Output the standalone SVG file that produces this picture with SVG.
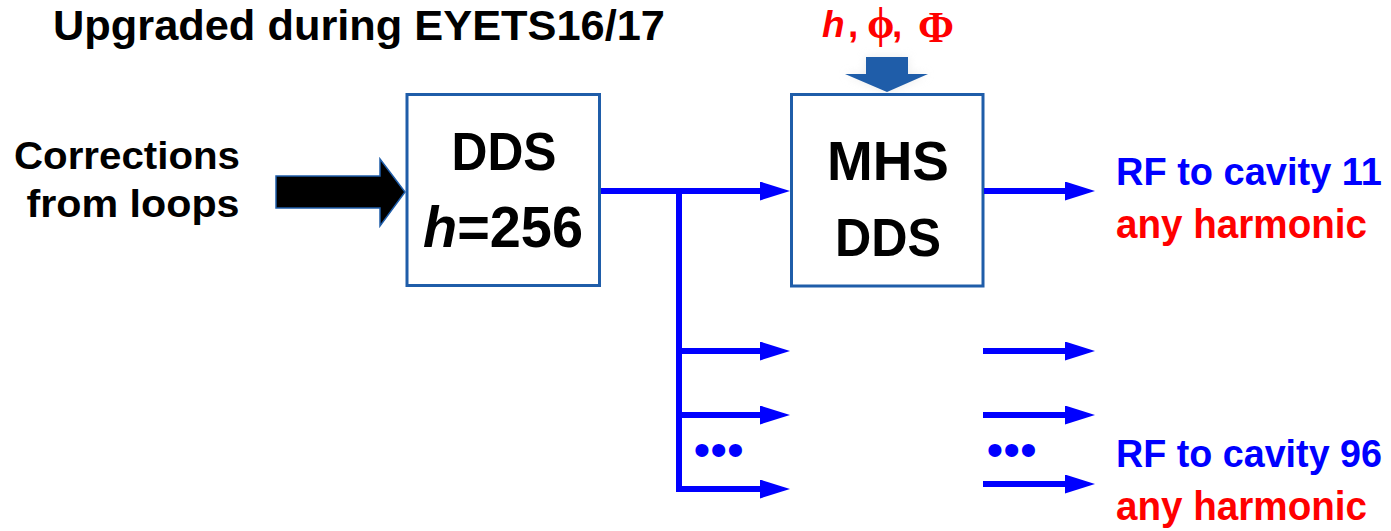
<svg xmlns="http://www.w3.org/2000/svg" width="1391" height="531" viewBox="0 0 1391 531">
<style>
.lbl{font-family:"Liberation Sans",Arial,sans-serif;font-weight:bold;fill:#000}
.box{fill:#fff;stroke:#1F5DA9;stroke-width:3}
.wire{stroke:#0000FF;stroke-width:6;fill:none}
.blue{fill:#0000FF}
.red{fill:#FF0000}
.dots{fill:#0000FF;font-family:"Liberation Sans",Arial,sans-serif;font-size:48px}
</style>
<defs>
<marker id="ah" markerUnits="userSpaceOnUse" markerWidth="30" markerHeight="19" refX="1" refY="9.5" orient="auto">
<path d="M0,0 L30,9.5 L0,19 z" fill="#0000FF"/>
</marker>
<filter id="glow" x="-50%" y="-50%" width="200%" height="200%">
<feGaussianBlur stdDeviation="5"/>
</filter>
</defs>

<text id="title" class="lbl" x="53" y="40" font-size="42" textLength="612" lengthAdjust="spacingAndGlyphs">Upgraded during EYETS16/17</text>

<g id="corrections">
<text class="lbl" x="127" y="169" font-size="38" text-anchor="middle" textLength="226" lengthAdjust="spacingAndGlyphs">Corrections</text>
<text class="lbl" x="133" y="217" font-size="38" text-anchor="middle" textLength="213" lengthAdjust="spacingAndGlyphs">from loops</text>
<polygon points="276,176 380,176 380,159 405,192 380,226 380,208 276,208" fill="#000" stroke="#1F5DA9" stroke-width="1.5"/>
</g>

<g id="params">
<text x="822" y="37" font-size="37" class="red" font-family="'Liberation Sans',Arial,sans-serif" font-weight="bold" font-style="italic">h</text>
<text x="848" y="37" font-size="37" class="red" font-family="'Liberation Sans',Arial,sans-serif" font-weight="bold">,</text>
<text x="867" y="38" font-size="44" class="red" font-family="'Liberation Serif','Times New Roman',serif" font-weight="bold">ϕ</text>
<text x="892" y="37" font-size="37" class="red" font-family="'Liberation Sans',Arial,sans-serif" font-weight="bold">,</text>
<text x="918" y="42" font-size="44" class="red" font-family="'Liberation Serif','Times New Roman',serif" font-weight="bold" textLength="36" lengthAdjust="spacingAndGlyphs">Φ</text>
<polygon points="866,57 908,57 908,74 928,74 887,92 845,74 866,74" fill="#ddd" filter="url(#glow)" opacity="0.6"/>
<polygon points="866,57 908,57 908,74 928,74 887,92 845,74 866,74" fill="#1F5DA9"/>
</g>

<g id="dds">
<rect class="box" x="407" y="94.5" width="192.5" height="191"/>
<text class="lbl" x="504" y="170" font-size="53" text-anchor="middle" textLength="105" lengthAdjust="spacingAndGlyphs">DDS</text>
<text class="lbl" x="503" y="247" font-size="58" text-anchor="middle" textLength="160" lengthAdjust="spacingAndGlyphs"><tspan font-style="italic">h</tspan>=256</text>
</g>

<g id="mhs">
<rect class="box" x="791.5" y="94.5" width="191.5" height="191.5"/>
<text class="lbl" x="888" y="180" font-size="55" text-anchor="middle" textLength="122" lengthAdjust="spacingAndGlyphs">MHS</text>
<text class="lbl" x="888" y="256" font-size="53" text-anchor="middle" textLength="106" lengthAdjust="spacingAndGlyphs">DDS</text>
</g>

<g id="connectors">
<path class="wire" d="M601,191 H761" marker-end="url(#ah)"/>
<path class="wire" d="M679,191 V492"/>
<path class="wire" d="M679,351 H761" marker-end="url(#ah)"/>
<path class="wire" d="M679,415 H761" marker-end="url(#ah)"/>
<path class="wire" d="M676,489 H761" marker-end="url(#ah)"/>
<path class="wire" d="M984,191 H1066" marker-end="url(#ah)"/>
<path class="wire" d="M983,351 H1066" marker-end="url(#ah)"/>
<path class="wire" d="M983,415 H1066" marker-end="url(#ah)"/>
<path class="wire" d="M983,484 H1066" marker-end="url(#ah)"/>
<text class="dots" x="693.5" y="466">•••</text>
<text class="dots" x="986.5" y="466">•••</text>
</g>

<g id="out11">
<text class="lbl" x="1116" y="185" font-size="38.5" textLength="266" lengthAdjust="spacingAndGlyphs" style="fill:#0000FF">RF to cavity 11</text>
<text class="lbl" x="1116" y="238" font-size="40" textLength="251" lengthAdjust="spacingAndGlyphs" style="fill:#FF0000">any harmonic</text>
</g>
<g id="out96">
<text class="lbl" x="1116" y="467" font-size="38.5" textLength="266" lengthAdjust="spacingAndGlyphs" style="fill:#0000FF">RF to cavity 96</text>
<text class="lbl" x="1116" y="520" font-size="40" textLength="251" lengthAdjust="spacingAndGlyphs" style="fill:#FF0000">any harmonic</text>
</g>
</svg>
